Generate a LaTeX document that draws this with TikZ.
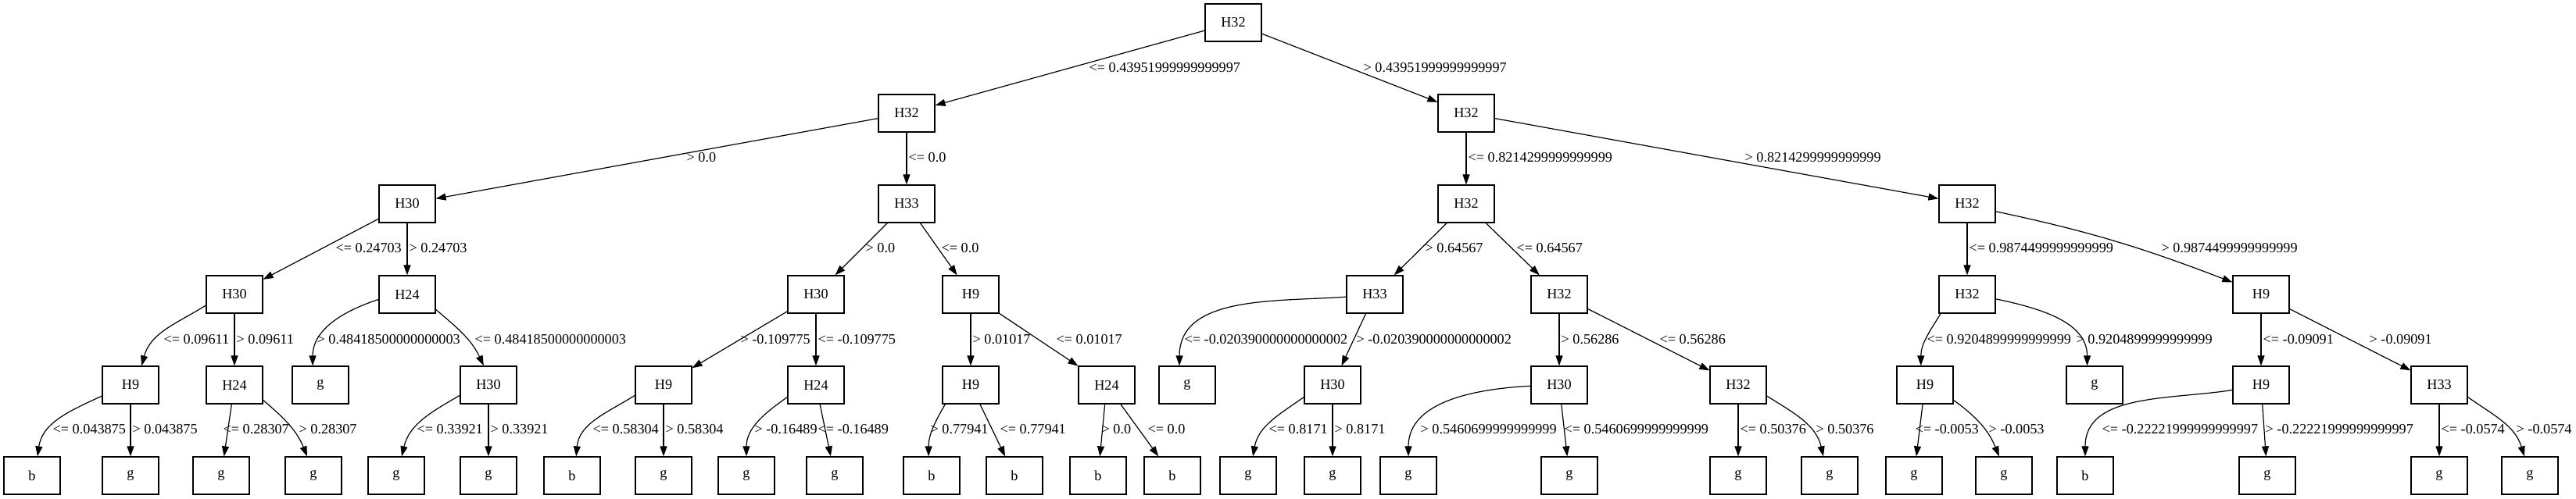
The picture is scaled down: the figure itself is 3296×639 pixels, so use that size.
\documentclass[tikz,border=0pt]{standalone}
\usepackage{fontspec}
\setmainfont{Liberation Serif}
\usetikzlibrary{arrows.meta}
\begin{document}
\begin{tikzpicture}[x=1pt,y=1pt,
  box/.style={draw, line width=1.2pt, rectangle, minimum width=72pt, minimum height=48pt, inner sep=0pt, font=\fontsize{18.2}{22}\selectfont},
  edge/.style={line width=1.2pt, -{Triangle[length=13pt,width=9pt]}},
  lbl/.style={anchor=west, inner sep=0pt, font=\fontsize{18.2}{22}\selectfont}]
\useasboundingbox (0,0) rectangle (3296,639);
% level 0
\node[box] (n0) at (1578,610) {H32};
% level 1
\node[box] (n1) at (1160,494) {H32};
\node[box] (n2) at (1876,494) {H32};
% level 2
\node[box] (n3) at (521,378) {H30};
\node[box] (n4) at (1160,378) {H33};
\node[box] (n5) at (1876,378) {H32};
\node[box] (n6) at (2517,378) {H32};
% level 3
\node[box] (n7) at (300,262) {H30};
\node[box] (n8) at (521,262) {H24};
\node[box] (n9) at (1044,262) {H30};
\node[box] (n10) at (1242,262) {H9};
\node[box] (n11) at (1759,262) {H33};
\node[box] (n12) at (1995,262) {H32};
\node[box] (n13) at (2517,262) {H32};
\node[box] (n14) at (2893,262) {H9};
% level 4
\node[box] (n15) at (167,146) {H9};
\node[box] (n16) at (300,146) {H24};
\node[box] (n17) at (410,146) {g};
\node[box] (n18) at (625,146) {H30};
\node[box] (n19) at (849,146) {H9};
\node[box] (n20) at (1044,146) {H24};
\node[box] (n21) at (1242,146) {H9};
\node[box] (n22) at (1416,146) {H24};
\node[box] (n23) at (1519,146) {g};
\node[box] (n24) at (1705,146) {H30};
\node[box] (n25) at (1995,146) {H30};
\node[box] (n26) at (2224,146) {H32};
\node[box] (n27) at (2463,146) {H9};
\node[box] (n28) at (2680,146) {g};
\node[box] (n29) at (2893,146) {H9};
\node[box] (n30) at (3121,146) {H33};
% level 5
\node[box] (n31) at (41,30) {b};
\node[box] (n32) at (167,30) {g};
\node[box] (n33) at (283,30) {g};
\node[box] (n34) at (401,30) {g};
\node[box] (n35) at (507,30) {g};
\node[box] (n36) at (625,30) {g};
\node[box] (n37) at (732,30) {b};
\node[box] (n38) at (849,30) {g};
\node[box] (n39) at (955,30) {g};
\node[box] (n40) at (1068,30) {g};
\node[box] (n41) at (1192,30) {b};
\node[box] (n42) at (1298,30) {b};
\node[box] (n43) at (1405,30) {b};
\node[box] (n44) at (1500,30) {b};
\node[box] (n45) at (1597,30) {g};
\node[box] (n46) at (1705,30) {g};
\node[box] (n47) at (1802,30) {g};
\node[box] (n48) at (2008,30) {g};
\node[box] (n49) at (2224,30) {g};
\node[box] (n50) at (2341,30) {g};
\node[box] (n51) at (2449,30) {g};
\node[box] (n52) at (2564,30) {g};
\node[box] (n53) at (2668,30) {b};
\node[box] (n54) at (2901,30) {g};
\node[box] (n55) at (3121,30) {g};
\node[box] (n56) at (3237,30) {g};
% level 0 -> 1
\draw[edge] (n0) -- (n1) node[lbl] at (1393,552) {<= 0.43951999999999997};
\draw[edge] (n0) -- (n2) node[lbl] at (1744,552) {> 0.43951999999999997};
% level 1 -> 2
\draw[edge] (n1) -- (n3) node[lbl] at (878,437) {> 0.0};
\draw[edge] (n1) -- (n4) node[lbl] at (1162,437) {<= 0.0};
\draw[edge] (n2) -- (n5) node[lbl] at (1878,437) {<= 0.8214299999999999};
\draw[edge] (n2) -- (n6) node[lbl] at (2232,437) {> 0.8214299999999999};
% level 2 -> 3
\draw[edge] (n3) -- (n7) node[lbl] at (429,321) {<= 0.24703};
\draw[edge] (n3) -- (n8) node[lbl] at (523,321) {> 0.24703};
\draw[edge] (n4) -- (n9) node[lbl] at (1107,321) {> 0.0};
\draw[edge] (n4) -- (n10) node[lbl] at (1204,321) {<= 0.0};
\draw[edge] (n5) -- (n11) node[lbl] at (1823,321) {> 0.64567};
\draw[edge] (n5) -- (n12) node[lbl] at (1940,321) {<= 0.64567};
\draw[edge] (n6) -- (n13) node[lbl] at (2519,321) {<= 0.9874499999999999};
\draw[edge] (n6.-15) to[out=-12,in=159] (n14.157) node[lbl] at (2765,321) {> 0.9874499999999999};
% level 3 -> 4
\draw[edge] (n7.201) to[out=212,in=75] (n15.60) node[lbl] at (209,204) {<= 0.09611};
\draw[edge] (n7) -- (n16) node[lbl] at (302,204) {> 0.09611};
\draw[edge] (n8.190) to[out=198,in=90] (n17.112) node[lbl] at (405,204) {> 0.48418500000000003};
\draw[edge] (n8.332) to[out=-40,in=115] (n18.104) node[lbl] at (607,204) {<= 0.48418500000000003};
\draw[edge] (n9) -- (n19) node[lbl] at (947,204) {> -0.109775};
\draw[edge] (n9) -- (n20) node[lbl] at (1046,204) {<= -0.109775};
\draw[edge] (n10) -- (n21) node[lbl] at (1244,204) {> 0.01017};
\draw[edge] (n10) -- (n22) node[lbl] at (1351,204) {<= 0.01017};
\draw[edge] (n11.185) to[out=184,in=90] (n23.112) node[lbl] at (1515,204) {<= -0.020390000000000002};
\draw[edge] (n11) -- (n24) node[lbl] at (1735,204) {> -0.020390000000000002};
\draw[edge] (n12) -- (n25) node[lbl] at (1997,204) {> 0.56286};
\draw[edge] (n12) -- (n26) node[lbl] at (2123,204) {<= 0.56286};
\draw[edge] (n13.216) to[out=238,in=90] (n27.102) node[lbl] at (2465,204) {<= 0.9204899999999999};
\draw[edge] (n13.-9) to[out=-12,in=90] (n28.111) node[lbl] at (2656,204) {> 0.9204899999999999};
\draw[edge] (n14) -- (n29) node[lbl] at (2895,204) {<= -0.09091};
\draw[edge] (n14) -- (n30) node[lbl] at (3031,204) {> -0.09091};
% level 4 -> 5
\draw[edge] (n15.201) to[out=205,in=82] (n31.74) node[lbl] at (67,89) {<= 0.043875};
\draw[edge] (n15) -- (n32) node[lbl] at (169,89) {> 0.043875};
\draw[edge] (n16) -- (n33) node[lbl] at (285,89) {<= 0.28307};
\draw[edge] (n16.-28) to[out=-40,in=112] (n34.108) node[lbl] at (382,89) {> 0.28307};
\draw[edge] (n18.200) to[out=210,in=77] (n35.74) node[lbl] at (533,89) {<= 0.33921};
\draw[edge] (n18) -- (n36) node[lbl] at (627,89) {> 0.33921};
\draw[edge] (n19.200) to[out=212,in=85] (n37.78) node[lbl] at (758,89) {<= 0.58304};
\draw[edge] (n19) -- (n38) node[lbl] at (851,89) {> 0.58304};
\draw[edge] (n20.203) to[out=215,in=90] (n39.north) node[lbl] at (965,89) {> -0.16489};
\draw[edge] (n20) -- (n40) node[lbl] at (1046,89) {<= -0.16489};
\draw[edge] (n21.217) to[out=240,in=90] (n41.99) node[lbl] at (1190,89) {> 0.77941};
\draw[edge] (n21) -- (n42) node[lbl] at (1279,89) {<= 0.77941};
\draw[edge] (n22) -- (n43) node[lbl] at (1409,89) {> 0.0};
\draw[edge] (n22) -- (n44) node[lbl] at (1468,89) {<= 0.0};
\draw[edge] (n24.203) to[out=215,in=80] (n45.76) node[lbl] at (1623,89) {<= 0.8171};
\draw[edge] (n24) -- (n46) node[lbl] at (1707,89) {> 0.8171};
\draw[edge] (n25.182) to[out=183,in=90] (n47.north) node[lbl] at (1817,89) {> 0.5460699999999999};
\draw[edge] (n25) -- (n48) node[lbl] at (2001,89) {<= 0.5460699999999999};
\draw[edge] (n26) -- (n49) node[lbl] at (2226,89) {<= 0.50376};
\draw[edge] (n26.-21) to[out=-32,in=103] (n50.108) node[lbl] at (2323,89) {> 0.50376};
\draw[edge] (n27) -- (n51) node[lbl] at (2450,89) {<= -0.0053};
\draw[edge] (n27.-28) to[out=-36,in=112] (n52.104) node[lbl] at (2544,89) {> -0.0053};
\draw[edge] (n29.190) to[out=189,in=90] (n53.north) node[lbl] at (2689,89) {<= -0.22221999999999997};
\draw[edge] (n29) -- (n54) node[lbl] at (2898,89) {> -0.22221999999999997};
\draw[edge] (n30) -- (n55) node[lbl] at (3123,89) {<= -0.0574};
\draw[edge] (n30.-23) to[out=-35,in=107] (n56.106) node[lbl] at (3219,89) {> -0.0574};
\end{tikzpicture}
\end{document}
